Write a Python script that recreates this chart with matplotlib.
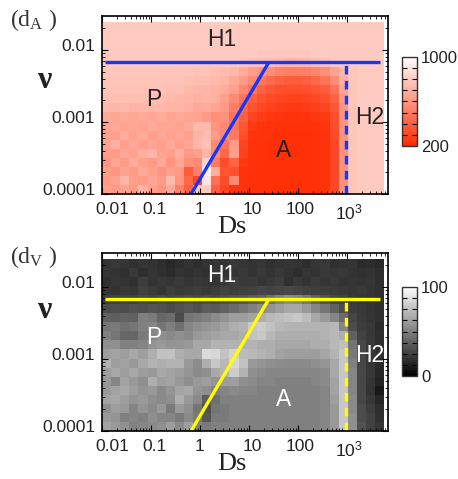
import numpy as np
import matplotlib
matplotlib.use('Agg')
import matplotlib.pyplot as plt
from matplotlib.colors import LinearSegmentedColormap
from matplotlib.ticker import FixedLocator, LogLocator, NullFormatter
from matplotlib.transforms import ScaledTranslation

plt.rcParams['font.family'] = ['Liberation Sans', 'DejaVu Sans']
plt.rcParams['mathtext.default'] = 'regular'

W, H = 458, 479

# cell edges, log10 of Ds and nu
ds_edges = np.linspace(-2.0, 3.76, 32)
nu_edges = np.linspace(-4.0, -1.61, 20)

# d_A values, first row is the top of the plot
d_a = [
    [800, 800, 800, 800, 800, 800, 800, 800, 800, 800, 800, 800, 800, 800, 800, 800, 800, 800, 800, 800, 800, 800, 800, 800, 800, 800, 800, 800, 800, 800, 800],
    [800, 800, 800, 800, 800, 800, 800, 800, 800, 800, 800, 800, 800, 800, 800, 800, 800, 800, 800, 800, 800, 800, 800, 800, 800, 800, 800, 800, 800, 800, 800],
    [800, 800, 800, 800, 800, 800, 800, 800, 800, 800, 800, 800, 800, 800, 800, 800, 800, 800, 800, 800, 800, 800, 800, 800, 800, 800, 800, 800, 800, 800, 800],
    [800, 800, 800, 800, 800, 800, 800, 800, 800, 800, 800, 800, 800, 800, 800, 800, 800, 790, 790, 790, 790, 790, 790, 800, 800, 800, 800, 800, 800, 800, 800],
    [795, 795, 795, 795, 795, 795, 795, 795, 795, 795, 795, 790, 790, 790, 785, 780, 770, 760, 750, 730, 720, 720, 730, 750, 770, 790, 795, 800, 800, 800, 800],
    [785, 785, 785, 785, 785, 785, 780, 780, 780, 780, 770, 770, 760, 750, 730, 690, 640, 600, 570, 530, 520, 520, 520, 540, 580, 650, 730, 785, 800, 800, 800],
    [780, 780, 775, 775, 775, 775, 775, 770, 770, 760, 750, 750, 740, 720, 680, 620, 560, 490, 440, 410, 390, 390, 400, 430, 480, 570, 700, 780, 800, 800, 800],
    [775, 770, 770, 770, 770, 770, 770, 760, 760, 740, 720, 720, 710, 690, 640, 550, 480, 410, 370, 340, 330, 330, 340, 360, 390, 470, 660, 780, 800, 800, 800],
    [760, 760, 760, 760, 755, 755, 750, 740, 730, 720, 700, 720, 700, 640, 560, 480, 400, 350, 320, 300, 290, 290, 300, 310, 340, 410, 620, 780, 800, 800, 800],
    [740, 730, 740, 720, 730, 730, 730, 720, 720, 700, 680, 690, 660, 620, 520, 430, 350, 310, 290, 270, 260, 260, 270, 280, 300, 370, 600, 780, 800, 800, 800],
    [680, 660, 690, 670, 680, 670, 690, 660, 680, 660, 650, 620, 580, 590, 480, 400, 300, 270, 250, 240, 235, 235, 240, 250, 260, 340, 590, 780, 800, 800, 800],
    [660, 680, 650, 670, 650, 680, 660, 670, 650, 680, 740, 740, 600, 550, 480, 360, 260, 240, 230, 225, 225, 225, 225, 230, 240, 330, 590, 780, 800, 800, 800],
    [650, 640, 690, 650, 680, 640, 670, 650, 660, 640, 720, 750, 620, 560, 500, 340, 240, 230, 225, 220, 220, 220, 220, 225, 235, 320, 590, 780, 800, 800, 800],
    [660, 700, 640, 680, 640, 660, 640, 680, 640, 660, 730, 760, 560, 480, 620, 300, 235, 225, 220, 220, 220, 220, 220, 225, 235, 310, 590, 780, 800, 800, 800],
    [640, 620, 670, 650, 700, 720, 650, 640, 700, 620, 640, 720, 560, 430, 640, 290, 230, 225, 220, 220, 220, 220, 220, 225, 235, 310, 590, 780, 800, 800, 800],
    [600, 660, 620, 690, 640, 620, 680, 600, 660, 580, 560, 840, 500, 330, 420, 250, 230, 225, 220, 220, 220, 220, 220, 225, 235, 310, 590, 780, 800, 800, 800],
    [640, 600, 650, 620, 680, 640, 600, 640, 620, 380, 520, 940, 700, 360, 340, 230, 225, 220, 220, 220, 220, 220, 220, 225, 235, 310, 590, 780, 800, 800, 800],
    [620, 650, 720, 640, 620, 660, 620, 740, 600, 430, 300, 900, 460, 320, 560, 240, 225, 220, 220, 220, 220, 220, 220, 225, 235, 310, 590, 780, 800, 800, 800],
    [640, 620, 650, 620, 720, 640, 600, 680, 520, 400, 800, 800, 400, 300, 240, 230, 225, 220, 220, 220, 220, 220, 220, 225, 235, 310, 590, 780, 800, 800, 800],
]

# d_V values, first row is the top of the plot
d_v = [
    [20, 22, 21, 19, 21, 20, 18, 16, 18, 20, 18, 20, 21, 20, 22, 21, 20, 21, 19, 20, 21, 20, 18, 21, 22, 19, 20, 21, 17, 18, 16],
    [21, 20, 19, 22, 18, 21, 19, 17, 20, 19, 20, 19, 22, 20, 21, 22, 20, 22, 20, 22, 20, 18, 21, 20, 22, 21, 22, 20, 19, 20, 18],
    [19, 21, 20, 19, 24, 20, 22, 21, 23, 21, 22, 21, 20, 22, 24, 22, 23, 21, 22, 24, 19, 22, 20, 23, 21, 22, 20, 21, 20, 21, 18],
    [21, 20, 22, 21, 25, 23, 21, 24, 22, 23, 24, 22, 24, 26, 24, 25, 26, 27, 26, 27, 28, 27, 25, 24, 24, 23, 22, 21, 22, 20, 19],
    [24, 25, 26, 25, 27, 26, 28, 26, 28, 30, 28, 29, 28, 30, 32, 33, 36, 38, 44, 50, 54, 52, 46, 38, 32, 27, 25, 22, 21, 20, 19],
    [30, 31, 30, 32, 31, 33, 32, 30, 32, 34, 32, 36, 35, 38, 42, 46, 50, 54, 58, 62, 66, 66, 60, 52, 46, 38, 30, 24, 22, 20, 19],
    [38, 37, 39, 38, 50, 48, 40, 42, 30, 46, 48, 50, 54, 58, 62, 62, 64, 68, 72, 74, 76, 78, 74, 66, 60, 52, 42, 27, 23, 21, 19],
    [46, 48, 44, 46, 50, 52, 46, 50, 44, 52, 56, 58, 60, 64, 68, 70, 78, 80, 76, 72, 70, 70, 70, 70, 70, 72, 52, 30, 24, 22, 17],
    [50, 46, 40, 40, 48, 52, 56, 54, 56, 54, 60, 62, 64, 66, 66, 68, 76, 78, 72, 68, 68, 68, 68, 68, 70, 72, 68, 38, 26, 22, 18],
    [56, 56, 50, 50, 52, 58, 60, 58, 58, 60, 66, 66, 70, 70, 70, 70, 70, 68, 68, 66, 66, 66, 66, 68, 68, 72, 75, 45, 28, 22, 18],
    [62, 64, 62, 66, 62, 68, 76, 76, 68, 66, 66, 86, 84, 76, 82, 74, 72, 70, 68, 64, 62, 62, 62, 62, 65, 70, 78, 48, 28, 22, 19],
    [70, 62, 64, 60, 66, 70, 68, 70, 70, 60, 55, 68, 78, 72, 84, 76, 60, 58, 56, 55, 54, 54, 54, 56, 58, 66, 78, 50, 28, 21, 17],
    [62, 66, 62, 66, 62, 60, 66, 64, 62, 58, 54, 56, 66, 70, 80, 70, 56, 54, 52, 52, 52, 52, 52, 52, 54, 66, 78, 52, 28, 22, 15],
    [60, 52, 64, 60, 56, 68, 62, 64, 60, 56, 60, 62, 58, 62, 62, 56, 54, 52, 52, 50, 50, 50, 50, 52, 54, 64, 78, 52, 28, 21, 14],
    [60, 64, 66, 62, 58, 60, 54, 58, 64, 66, 58, 56, 50, 52, 54, 52, 52, 50, 50, 50, 50, 50, 50, 50, 52, 64, 78, 52, 28, 20, 9],
    [64, 66, 62, 58, 60, 56, 54, 56, 68, 60, 54, 36, 44, 50, 50, 50, 50, 50, 50, 50, 50, 50, 50, 50, 52, 62, 78, 54, 28, 22, 15],
    [56, 62, 60, 52, 58, 54, 60, 48, 60, 56, 46, 32, 46, 48, 50, 50, 50, 50, 50, 50, 50, 50, 50, 50, 52, 60, 78, 54, 30, 24, 18],
    [60, 58, 50, 52, 50, 56, 52, 52, 48, 54, 48, 34, 48, 48, 50, 50, 50, 50, 50, 50, 50, 50, 50, 50, 52, 60, 78, 56, 30, 26, 19],
    [64, 60, 56, 50, 52, 54, 56, 62, 54, 62, 50, 48, 50, 50, 50, 50, 50, 50, 50, 50, 50, 50, 50, 50, 52, 60, 78, 56, 32, 26, 21],
]

ds_ticks = [0.01, 0.1, 1, 10, 100, 1000]
ds_labels = ['0.01', '0.1', '1', '10', '100', '10$^3$']
nu_ticks = [0.01, 0.001, 0.0001]
nu_labels = ['0.01', '0.001', '0.0001']

# phase boundaries
nu_h1 = 0.0068
h1_ds = [0.0115, 4800]
diag_ds = [0.66, 25.6]
diag_nu = [0.0001, 0.0068]
ds_h2 = 950

reds = LinearSegmentedColormap.from_list('reds2', ['#ff2a00', '#ffffff'])


def box(left, top, right, bottom):
    return [left / W, 1 - bottom / H, (right - left) / W, (bottom - top) / H]


def label(fig, x, y, text, **kw):
    fig.text(x / W, 1 - y / H, text, ha=kw.pop('ha', 'center'), va='center', **kw)


def panel(fig, top, values, cmap, vmin, vmax, line_color, text_color, name, cbar_labels, a_y, h2_y, nu_y, cb_top):
    ax = fig.add_axes(box(102, top, 388, top + 178))
    mesh = ax.pcolormesh(10.0 ** ds_edges, 10.0 ** nu_edges, np.array(values)[::-1],
                         cmap=cmap, vmin=vmin, vmax=vmax, shading='flat')
    ax.set_xscale('log')
    ax.set_yscale('log')
    ax.set_xlim(0.01, 6900)
    ax.set_ylim(0.0001, 0.0296)

    ax.plot(h1_ds, [nu_h1, nu_h1], color=line_color, lw=2.4, solid_capstyle='butt')
    ax.plot(diag_ds, diag_nu, color=line_color, lw=2.4, solid_capstyle='butt')
    ax.plot([ds_h2, ds_h2], [0.0001, nu_h1], color=line_color, lw=2.4, dashes=(2.6, 1.9))

    ax.set_xticks(ds_ticks)
    ax.set_xticklabels(ds_labels)
    ax.set_yticks(nu_ticks)
    ax.set_yticklabels(nu_labels)
    ax.xaxis.set_minor_locator(LogLocator(base=10, subs=np.arange(2, 10), numticks=12))
    ax.yaxis.set_minor_locator(LogLocator(base=10, subs=np.arange(2, 10), numticks=12))
    ax.xaxis.set_minor_formatter(NullFormatter())
    ax.yaxis.set_minor_formatter(NullFormatter())
    ax.tick_params(which='major', direction='in', top=True, right=True, length=4, width=0.8,
                   labelsize=12.6, color='black', labelcolor='#222222')
    ax.tick_params(which='minor', direction='in', top=True, right=True, length=2, width=0.6)
    ax.tick_params(axis='x', pad=6)
    ax.tick_params(axis='y', pad=5)
    for s in ax.spines.values():
        s.set_linewidth(1.2)

    # labels in the original sit off the tick marks
    for lab, dx in zip(ax.get_xticklabels(), [10, 4, 0, 3, 2, 2]):
        lab.set_transform(lab.get_transform() + ScaledTranslation(dx / 100, 0, fig.dpi_scale_trans))
    for lab in ax.get_yticklabels():
        lab.set_transform(lab.get_transform() + ScaledTranslation(0, 5 / 100, fig.dpi_scale_trans))

    label(fig, 222, top + 23, 'H1', color=text_color, fontsize=16.5)
    label(fig, 154, top + 84, 'P', color=text_color, fontsize=16.5)
    label(fig, 284, top + a_y, 'A', color=text_color, fontsize=16.5)
    label(fig, 370, top + h2_y, 'H2', color=text_color, fontsize=16.5)

    serif = ['Liberation Serif', 'DejaVu Serif']
    label(fig, 232, top + 211, 'Ds', family=serif, fontsize=19, color='#222222')
    label(fig, 44, top + nu_y, '\u03bd', family=serif, fontsize=23, fontweight='bold', color='#222222')
    label(fig, 10, top + 4, '(d$_{%s}$ )' % name, family=serif, fontsize=17, color='#333333', ha='left')

    # colour bar
    cax = fig.add_axes(box(402, top + cb_top, 417, top + cb_top + 89))
    cb = fig.colorbar(mesh, cax=cax)
    cb.set_ticks([vmin, vmax])
    cb.set_ticklabels(cbar_labels)
    cb.outline.set_linewidth(1.0)
    cb.outline.set_edgecolor('#333333')
    cax.yaxis.set_minor_locator(FixedLocator(np.linspace(vmin, vmax, 9)))
    cax.tick_params(which='both', direction='in', left=True, right=True, length=3.5, width=0.8)
    cax.tick_params(which='major', length=0, labelsize=12, pad=3, labelcolor='#222222')


fig = plt.figure(figsize=(W / 100, H / 100), dpi=100)
panel(fig, 16, d_a, reds, 200, 1000, '#1238ff', '#222222', 'A', ['200', '1000'], 135, 101, 64, 41)
panel(fig, 253, d_v, 'gray', 0, 100, '#ffff00', 'white', 'V', ['0', '100'], 146, 103, 57, 34)
fig.savefig('out.png', dpi=100)
